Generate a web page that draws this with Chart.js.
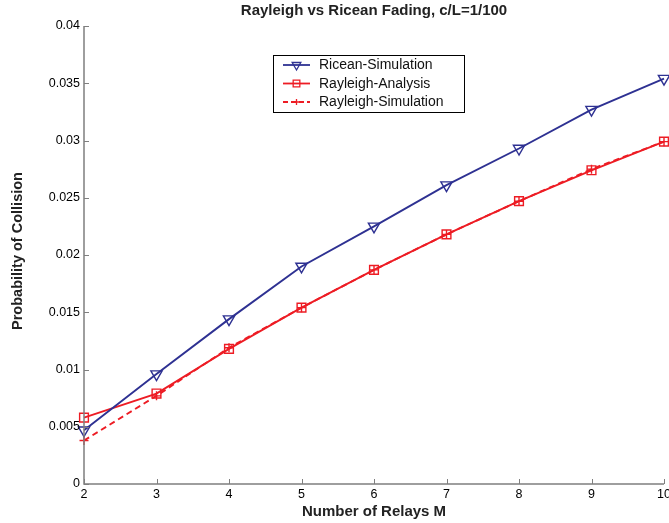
<!DOCTYPE html>
<html>
<head>
<meta charset="utf-8">
<script src="https://cdn.jsdelivr.net/npm/chart.js@4"></script>
<style>
  html, body { margin: 0; padding: 0; background: #fff; }
  #wrap { width: 669px; height: 523px; }
</style>
</head>
<body>
<div id="wrap"><canvas id="grafico"></canvas></div>
<script>
// dados
const relays = [2, 3, 4, 5, 6, 7, 8, 9, 10];
const riceanSim = [0.0047, 0.0096, 0.0144, 0.0190, 0.0225, 0.0261, 0.0293, 0.0327, 0.0354];
const rayleighAnal = [0.0058, 0.0079, 0.0118, 0.0154, 0.0187, 0.0218, 0.0247, 0.0274, 0.0299];
const rayleighSim = [0.0038, 0.0077, 0.0119, 0.0154, 0.0187, 0.0218, 0.0247, 0.0275, 0.0299];
const yTicks = [0, 0.005, 0.01, 0.015, 0.02, 0.025, 0.03, 0.035, 0.04];
const yTickLabels = ["0", "0.005", "0.01", "0.015", "0.02", "0.025", "0.03", "0.035", "0.04"];

const AZUL = "#2e3192";
const VERMELHO = "#ed1c24";
const FONTE = "'Liberation Sans', Arial, Helvetica, sans-serif";
const EIXO = "#7f7f7f";

function pontos(ys) {
  return relays.map((x, i) => ({ x: x, y: ys[i] }));
}

const series = [
  { label: "Ricean-Simulation", data: riceanSim, color: AZUL, style: "triangle", rot: 180, radius: 6.5, dash: [] },
  { label: "Rayleigh-Analysis", data: rayleighAnal, color: VERMELHO, style: "rect", rot: 0, radius: 6.2, dash: [] },
  { label: "Rayleigh-Simulation", data: rayleighSim, color: VERMELHO, style: "cross", rot: 0, radius: 4.5, dash: [6, 4] },
];

// eixos, titulos e legenda desenhados a mao
const extras = {
  id: "extras",
  afterDraw(chart) {
    const ctx = chart.ctx;
    const area = chart.chartArea;
    const xs = chart.scales.x, ys = chart.scales.y;
    ctx.save();
    ctx.strokeStyle = EIXO;
    ctx.lineWidth = 1.5;
    ctx.beginPath();
    ctx.moveTo(area.left, area.top);
    ctx.lineTo(area.left, area.bottom);
    ctx.lineTo(area.right, area.bottom);
    ctx.stroke();
    ctx.lineWidth = 1;
    ctx.beginPath();
    yTicks.forEach(v => {
      const py = Math.round(ys.getPixelForValue(v)) + 0.5;
      ctx.moveTo(area.left, py);
      ctx.lineTo(area.left + 5, py);
    });
    relays.forEach(v => {
      const px = Math.round(xs.getPixelForValue(v)) + 0.5;
      ctx.moveTo(px, area.bottom);
      ctx.lineTo(px, area.bottom - 5);
    });
    ctx.stroke();

    // rotulos dos ticks
    ctx.fillStyle = "#000";
    ctx.font = "12.5px " + FONTE;
    ctx.textAlign = "right";
    ctx.textBaseline = "middle";
    yTicks.forEach((v, i) => {
      ctx.fillText(yTickLabels[i], area.left - 4, ys.getPixelForValue(v));
    });
    ctx.textAlign = "center";
    ctx.textBaseline = "top";
    relays.forEach(v => {
      ctx.fillText(String(v), xs.getPixelForValue(v), area.bottom + 4);
    });

    // titulos
    const cx = (area.left + area.right) / 2;
    ctx.fillStyle = "#222";
    ctx.font = "bold 15px " + FONTE;
    ctx.textBaseline = "middle";
    ctx.fillText("Rayleigh vs Ricean Fading, c/L=1/100", cx, 11);
    ctx.fillText("Number of Relays M", cx, 512);
    ctx.save();
    ctx.font = "bold 14.5px " + FONTE;
    ctx.translate(18, 251);
    ctx.rotate(-Math.PI / 2);
    ctx.fillText("Probability of Collision", 0, 0);
    ctx.restore();

    // legenda
    const bx = 273.5, by = 55.5, bw = 191, bh = 57;
    ctx.fillStyle = "#fff";
    ctx.fillRect(bx, by, bw, bh);
    ctx.strokeStyle = "#000";
    ctx.lineWidth = 1;
    ctx.strokeRect(bx, by, bw, bh);
    const linhas = [65, 83.5, 102];
    series.forEach((s, i) => {
      const ly = linhas[i];
      ctx.strokeStyle = s.color;
      ctx.lineWidth = 1.8;
      ctx.setLineDash(s.dash.length ? [5, 3] : []);
      ctx.beginPath();
      ctx.moveTo(283, ly);
      ctx.lineTo(310, ly);
      ctx.stroke();
      ctx.setLineDash([]);
      ctx.fillStyle = "rgba(0,0,0,0)";
      ctx.lineWidth = 1.3;
      Chart.helpers.drawPoint(ctx, {
        pointStyle: s.style, rotation: s.rot, radius: s.radius - 1.5, borderWidth: 1.3
      }, 296.5, ly);
      ctx.fillStyle = "#111";
      ctx.font = "14px " + FONTE;
      ctx.textAlign = "left";
      ctx.fillText(s.label, 319, ly + 0.5);
    });
    ctx.restore();
  }
};

const ctx = document.getElementById("grafico").getContext("2d");
new Chart(ctx, {
  type: "line",
  data: {
    datasets: series.map((s, i) => ({
      label: s.label,
      data: pontos(s.data),
      borderColor: s.color,
      backgroundColor: "rgba(0,0,0,0)",
      borderWidth: 1.9,
      borderDash: s.dash,
      pointStyle: s.style,
      rotation: s.rot,
      pointRadius: s.radius,
      pointBorderColor: s.color,
      pointBackgroundColor: "rgba(0,0,0,0)",
      pointBorderWidth: 1.4,
      tension: 0,
      fill: false,
      clip: 8,
      order: i === 2 ? 3 : i,
    })),
  },
  options: {
    responsive: true,
    maintainAspectRatio: false,
    animation: false,
    events: [],
    layout: { autoPadding: false, padding: { left: 0, right: 5, top: 26, bottom: 0 } },
    plugins: {
      legend: { display: false },
      title: { display: false },
      tooltip: { enabled: false },
    },
    scales: {
      x: {
        type: "linear",
        min: 2, max: 10,
        grid: { display: false, drawTicks: false },
        border: { display: false },
        ticks: { display: false },
        afterFit(scale) { scale.height = 39; },
      },
      y: {
        min: 0, max: 0.04,
        grid: { display: false, drawTicks: false },
        border: { display: false },
        ticks: { display: false },
        afterFit(scale) { scale.width = 84; },
      },
    },
  },
  plugins: [extras],
});
</script>
</body>
</html>
